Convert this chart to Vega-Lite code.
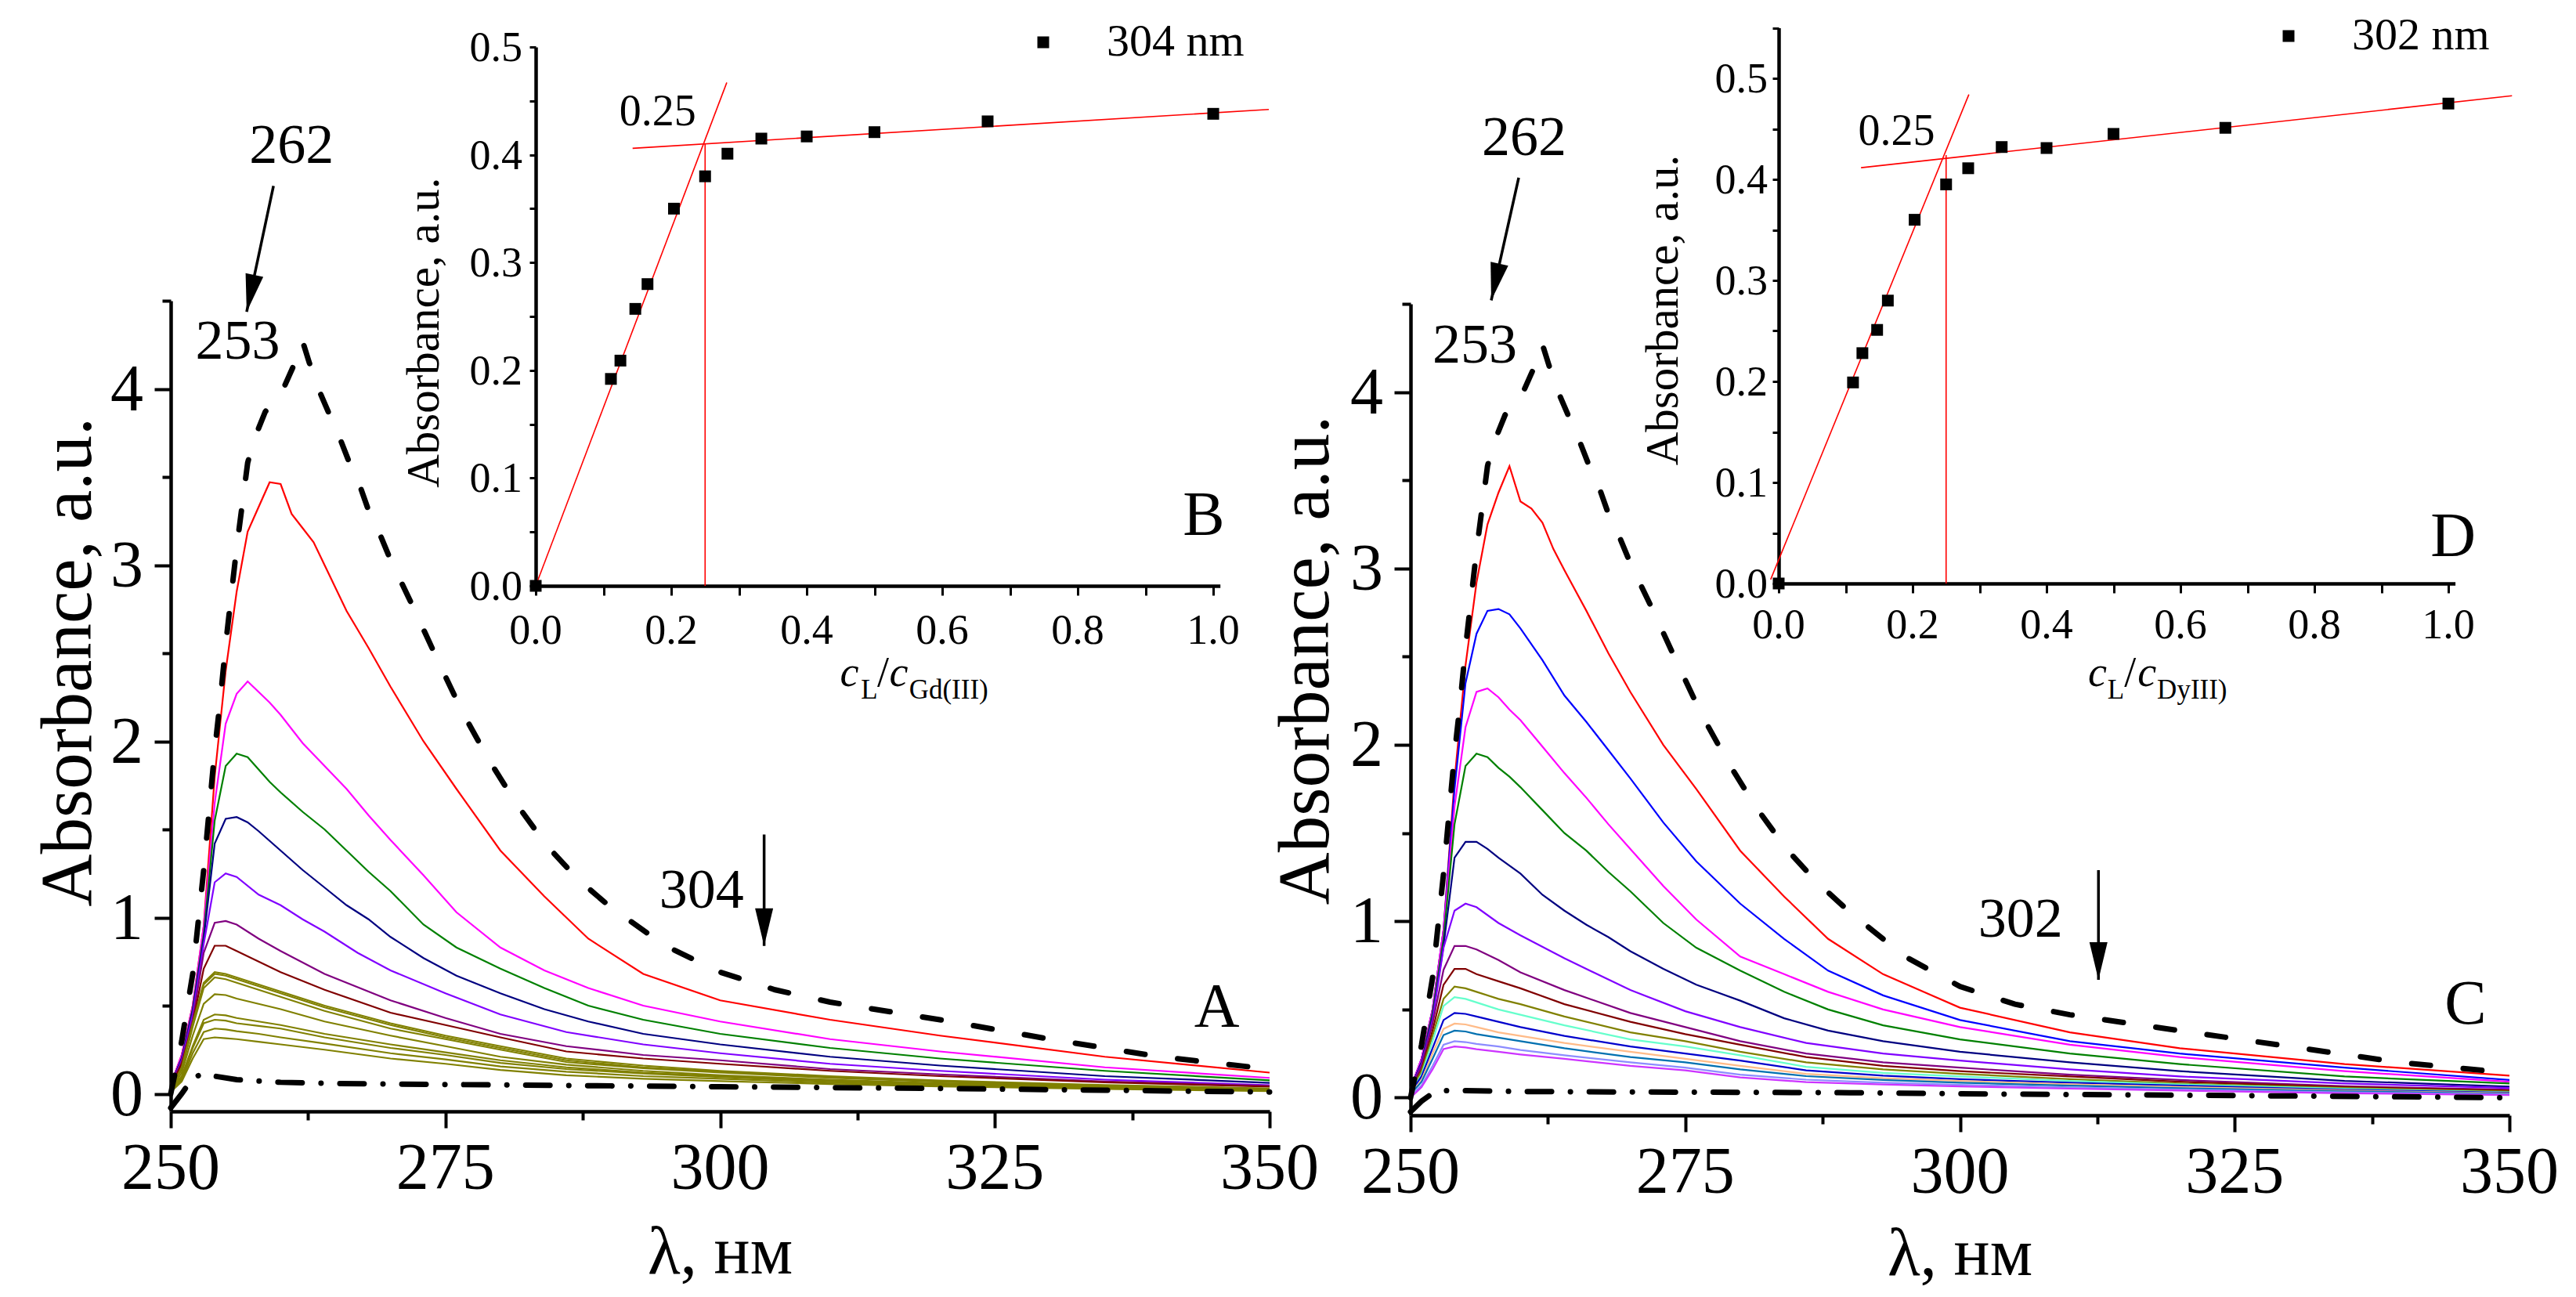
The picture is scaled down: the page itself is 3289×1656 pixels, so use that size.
{
  "$schema": "https://vega.github.io/schema/vega-lite/v6.json",
  "width": 3289,
  "height": 1656,
  "autosize": {"type": "none"},
  "padding": 0,
  "background": "white",
  "config": {
    "view": {"stroke": null},
    "axis": {"domainColor": "black", "tickColor": "black", "grid": false, "labels": false, "title": null},
    "text": {"font": "Liberation Serif", "color": "black"},
    "legend": {"labelColor": "black", "labelLimit": 0}
  },
  "datasets": {
    "specA": [
      {"s":1,"x":250,"y":0.05},{"s":1,"x":251,"y":0.22},{"s":1,"x":252,"y":0.5},{"s":1,"x":253,"y":0.95},{"s":1,"x":254,"y":1.8},{"s":1,"x":255,"y":2.4},{"s":1,"x":256,"y":2.85},{"s":1,"x":257,"y":3.19},{"s":1,"x":258,"y":3.33},{"s":1,"x":259,"y":3.47},{"s":1,"x":260,"y":3.46},{"s":1,"x":261,"y":3.29},{"s":1,"x":262,"y":3.21},{"s":1,"x":263,"y":3.13},{"s":1,"x":264,"y":3.0},{"s":1,"x":266,"y":2.74},{"s":1,"x":268,"y":2.53},{"s":1,"x":270,"y":2.31},{"s":1,"x":273,"y":2.0},{"s":1,"x":276,"y":1.73},{"s":1,"x":280,"y":1.38},{"s":1,"x":284,"y":1.12},{"s":1,"x":288,"y":0.88},{"s":1,"x":293,"y":0.68},{"s":1,"x":300,"y":0.53},{"s":1,"x":310,"y":0.42},{"s":1,"x":320,"y":0.33},{"s":1,"x":335,"y":0.21},{"s":1,"x":350,"y":0.12},
      {"s":2,"x":250,"y":0.05},{"s":2,"x":251,"y":0.22},{"s":2,"x":252,"y":0.5},{"s":2,"x":253,"y":0.95},{"s":2,"x":254,"y":1.65},{"s":2,"x":255,"y":2.1},{"s":2,"x":256,"y":2.27},{"s":2,"x":257,"y":2.34},{"s":2,"x":258,"y":2.28},{"s":2,"x":259,"y":2.22},{"s":2,"x":260,"y":2.15},{"s":2,"x":262,"y":1.99},{"s":2,"x":264,"y":1.86},{"s":2,"x":266,"y":1.73},{"s":2,"x":268,"y":1.58},{"s":2,"x":270,"y":1.44},{"s":2,"x":273,"y":1.24},{"s":2,"x":276,"y":1.03},{"s":2,"x":280,"y":0.83},{"s":2,"x":284,"y":0.7},{"s":2,"x":288,"y":0.6},{"s":2,"x":293,"y":0.5},{"s":2,"x":300,"y":0.41},{"s":2,"x":310,"y":0.31},{"s":2,"x":320,"y":0.24},{"s":2,"x":335,"y":0.15},{"s":2,"x":350,"y":0.09},
      {"s":3,"x":250,"y":0.05},{"s":3,"x":251,"y":0.2},{"s":3,"x":252,"y":0.48},{"s":3,"x":253,"y":0.9},{"s":3,"x":254,"y":1.55},{"s":3,"x":255,"y":1.86},{"s":3,"x":256,"y":1.93},{"s":3,"x":257,"y":1.91},{"s":3,"x":258,"y":1.84},{"s":3,"x":259,"y":1.77},{"s":3,"x":260,"y":1.71},{"s":3,"x":262,"y":1.6},{"s":3,"x":264,"y":1.5},{"s":3,"x":266,"y":1.38},{"s":3,"x":268,"y":1.26},{"s":3,"x":270,"y":1.15},{"s":3,"x":273,"y":0.96},{"s":3,"x":276,"y":0.83},{"s":3,"x":280,"y":0.71},{"s":3,"x":284,"y":0.6},{"s":3,"x":288,"y":0.5},{"s":3,"x":293,"y":0.42},{"s":3,"x":300,"y":0.34},{"s":3,"x":310,"y":0.26},{"s":3,"x":320,"y":0.2},{"s":3,"x":335,"y":0.13},{"s":3,"x":350,"y":0.076},
      {"s":4,"x":250,"y":0.05},{"s":4,"x":251,"y":0.2},{"s":4,"x":252,"y":0.47},{"s":4,"x":253,"y":0.88},{"s":4,"x":254,"y":1.42},{"s":4,"x":255,"y":1.56},{"s":4,"x":256,"y":1.57},{"s":4,"x":257,"y":1.54},{"s":4,"x":258,"y":1.49},{"s":4,"x":260,"y":1.38},{"s":4,"x":262,"y":1.27},{"s":4,"x":264,"y":1.17},{"s":4,"x":266,"y":1.07},{"s":4,"x":268,"y":0.99},{"s":4,"x":270,"y":0.89},{"s":4,"x":273,"y":0.77},{"s":4,"x":276,"y":0.67},{"s":4,"x":280,"y":0.57},{"s":4,"x":284,"y":0.48},{"s":4,"x":288,"y":0.41},{"s":4,"x":293,"y":0.34},{"s":4,"x":300,"y":0.28},{"s":4,"x":310,"y":0.21},{"s":4,"x":320,"y":0.16},{"s":4,"x":335,"y":0.1},{"s":4,"x":350,"y":0.062},
      {"s":5,"x":250,"y":0.05},{"s":5,"x":251,"y":0.19},{"s":5,"x":252,"y":0.45},{"s":5,"x":253,"y":0.85},{"s":5,"x":254,"y":1.2},{"s":5,"x":255,"y":1.25},{"s":5,"x":256,"y":1.23},{"s":5,"x":258,"y":1.13},{"s":5,"x":260,"y":1.07},{"s":5,"x":262,"y":0.99},{"s":5,"x":264,"y":0.92},{"s":5,"x":267,"y":0.8},{"s":5,"x":270,"y":0.7},{"s":5,"x":275,"y":0.57},{"s":5,"x":280,"y":0.45},{"s":5,"x":286,"y":0.35},{"s":5,"x":293,"y":0.28},{"s":5,"x":300,"y":0.23},{"s":5,"x":310,"y":0.17},{"s":5,"x":320,"y":0.13},{"s":5,"x":335,"y":0.08},{"s":5,"x":350,"y":0.049},
      {"s":6,"x":250,"y":0.05},{"s":6,"x":251,"y":0.18},{"s":6,"x":252,"y":0.42},{"s":6,"x":253,"y":0.8},{"s":6,"x":254,"y":0.97},{"s":6,"x":255,"y":0.98},{"s":6,"x":256,"y":0.96},{"s":6,"x":258,"y":0.88},{"s":6,"x":260,"y":0.81},{"s":6,"x":264,"y":0.68},{"s":6,"x":270,"y":0.53},{"s":6,"x":275,"y":0.43},{"s":6,"x":280,"y":0.34},{"s":6,"x":286,"y":0.27},{"s":6,"x":293,"y":0.22},{"s":6,"x":300,"y":0.19},{"s":6,"x":310,"y":0.14},{"s":6,"x":320,"y":0.11},{"s":6,"x":335,"y":0.07},{"s":6,"x":350,"y":0.045},
      {"s":7,"x":250,"y":0.04},{"s":7,"x":251,"y":0.17},{"s":7,"x":252,"y":0.4},{"s":7,"x":253,"y":0.71},{"s":7,"x":254,"y":0.84},{"s":7,"x":255,"y":0.84},{"s":7,"x":256,"y":0.81},{"s":7,"x":258,"y":0.75},{"s":7,"x":260,"y":0.69},{"s":7,"x":264,"y":0.59},{"s":7,"x":270,"y":0.46},{"s":7,"x":275,"y":0.39},{"s":7,"x":280,"y":0.32},{"s":7,"x":286,"y":0.24},{"s":7,"x":293,"y":0.2},{"s":7,"x":300,"y":0.17},{"s":7,"x":310,"y":0.13},{"s":7,"x":320,"y":0.1},{"s":7,"x":335,"y":0.065},{"s":7,"x":350,"y":0.04},
      {"s":8,"x":250,"y":0.03},{"s":8,"x":251,"y":0.15},{"s":8,"x":252,"y":0.4},{"s":8,"x":253,"y":0.63},{"s":8,"x":254,"y":0.69},{"s":8,"x":255,"y":0.68},{"s":8,"x":256,"y":0.66},{"s":8,"x":258,"y":0.62},{"s":8,"x":260,"y":0.58},{"s":8,"x":264,"y":0.5},{"s":8,"x":270,"y":0.4},{"s":8,"x":275,"y":0.33},{"s":8,"x":280,"y":0.27},{"s":8,"x":286,"y":0.2},{"s":8,"x":293,"y":0.16},{"s":8,"x":300,"y":0.13},{"s":8,"x":310,"y":0.1},{"s":8,"x":320,"y":0.075},{"s":8,"x":335,"y":0.05},{"s":8,"x":350,"y":0.03},
      {"s":9,"x":250,"y":0.03},{"s":9,"x":251,"y":0.14},{"s":9,"x":252,"y":0.39},{"s":9,"x":253,"y":0.62},{"s":9,"x":254,"y":0.68},{"s":9,"x":255,"y":0.67},{"s":9,"x":256,"y":0.65},{"s":9,"x":258,"y":0.61},{"s":9,"x":260,"y":0.57},{"s":9,"x":264,"y":0.49},{"s":9,"x":270,"y":0.39},{"s":9,"x":275,"y":0.32},{"s":9,"x":280,"y":0.26},{"s":9,"x":286,"y":0.19},{"s":9,"x":293,"y":0.15},{"s":9,"x":300,"y":0.125},{"s":9,"x":310,"y":0.095},{"s":9,"x":320,"y":0.07},{"s":9,"x":335,"y":0.045},{"s":9,"x":350,"y":0.028},
      {"s":10,"x":250,"y":0.03},{"s":10,"x":251,"y":0.14},{"s":10,"x":252,"y":0.38},{"s":10,"x":253,"y":0.6},{"s":10,"x":254,"y":0.66},{"s":10,"x":255,"y":0.65},{"s":10,"x":256,"y":0.63},{"s":10,"x":258,"y":0.59},{"s":10,"x":260,"y":0.55},{"s":10,"x":264,"y":0.47},{"s":10,"x":270,"y":0.37},{"s":10,"x":275,"y":0.31},{"s":10,"x":280,"y":0.25},{"s":10,"x":286,"y":0.18},{"s":10,"x":293,"y":0.145},{"s":10,"x":300,"y":0.12},{"s":10,"x":310,"y":0.09},{"s":10,"x":320,"y":0.068},{"s":10,"x":335,"y":0.043},{"s":10,"x":350,"y":0.026},
      {"s":11,"x":250,"y":0.02},{"s":11,"x":251,"y":0.12},{"s":11,"x":252,"y":0.33},{"s":11,"x":253,"y":0.51},{"s":11,"x":254,"y":0.565},{"s":11,"x":255,"y":0.56},{"s":11,"x":256,"y":0.54},{"s":11,"x":258,"y":0.51},{"s":11,"x":260,"y":0.48},{"s":11,"x":264,"y":0.41},{"s":11,"x":270,"y":0.33},{"s":11,"x":275,"y":0.27},{"s":11,"x":280,"y":0.21},{"s":11,"x":286,"y":0.165},{"s":11,"x":293,"y":0.13},{"s":11,"x":300,"y":0.105},{"s":11,"x":310,"y":0.08},{"s":11,"x":320,"y":0.06},{"s":11,"x":335,"y":0.04},{"s":11,"x":350,"y":0.024},
      {"s":12,"x":250,"y":0.02},{"s":12,"x":251,"y":0.1},{"s":12,"x":252,"y":0.27},{"s":12,"x":253,"y":0.42},{"s":12,"x":254,"y":0.45},{"s":12,"x":255,"y":0.445},{"s":12,"x":256,"y":0.43},{"s":12,"x":258,"y":0.41},{"s":12,"x":260,"y":0.39},{"s":12,"x":264,"y":0.34},{"s":12,"x":270,"y":0.28},{"s":12,"x":275,"y":0.235},{"s":12,"x":280,"y":0.19},{"s":12,"x":286,"y":0.15},{"s":12,"x":293,"y":0.12},{"s":12,"x":300,"y":0.1},{"s":12,"x":310,"y":0.075},{"s":12,"x":320,"y":0.057},{"s":12,"x":335,"y":0.037},{"s":12,"x":350,"y":0.022},
      {"s":13,"x":250,"y":0.02},{"s":13,"x":251,"y":0.09},{"s":13,"x":252,"y":0.26},{"s":13,"x":253,"y":0.4},{"s":13,"x":254,"y":0.42},{"s":13,"x":255,"y":0.415},{"s":13,"x":256,"y":0.4},{"s":13,"x":258,"y":0.385},{"s":13,"x":260,"y":0.37},{"s":13,"x":264,"y":0.32},{"s":13,"x":270,"y":0.26},{"s":13,"x":275,"y":0.22},{"s":13,"x":280,"y":0.175},{"s":13,"x":286,"y":0.14},{"s":13,"x":293,"y":0.115},{"s":13,"x":300,"y":0.095},{"s":13,"x":310,"y":0.07},{"s":13,"x":320,"y":0.053},{"s":13,"x":335,"y":0.034},{"s":13,"x":350,"y":0.02},
      {"s":14,"x":250,"y":0.02},{"s":14,"x":251,"y":0.08},{"s":14,"x":252,"y":0.23},{"s":14,"x":253,"y":0.35},{"s":14,"x":254,"y":0.37},{"s":14,"x":255,"y":0.365},{"s":14,"x":256,"y":0.355},{"s":14,"x":258,"y":0.34},{"s":14,"x":260,"y":0.32},{"s":14,"x":264,"y":0.285},{"s":14,"x":270,"y":0.23},{"s":14,"x":275,"y":0.195},{"s":14,"x":280,"y":0.155},{"s":14,"x":286,"y":0.125},{"s":14,"x":293,"y":0.1},{"s":14,"x":300,"y":0.085},{"s":14,"x":310,"y":0.063},{"s":14,"x":320,"y":0.048},{"s":14,"x":335,"y":0.03},{"s":14,"x":350,"y":0.018},
      {"s":15,"x":250,"y":0.01},{"s":15,"x":251,"y":0.07},{"s":15,"x":252,"y":0.2},{"s":15,"x":253,"y":0.31},{"s":15,"x":254,"y":0.32},{"s":15,"x":255,"y":0.315},{"s":15,"x":256,"y":0.31},{"s":15,"x":258,"y":0.295},{"s":15,"x":260,"y":0.28},{"s":15,"x":264,"y":0.25},{"s":15,"x":270,"y":0.2},{"s":15,"x":275,"y":0.17},{"s":15,"x":280,"y":0.135},{"s":15,"x":286,"y":0.105},{"s":15,"x":293,"y":0.085},{"s":15,"x":300,"y":0.072},{"s":15,"x":310,"y":0.055},{"s":15,"x":320,"y":0.042},{"s":15,"x":335,"y":0.027},{"s":15,"x":350,"y":0.015}
    ],
    "ligandA": [
      {"x":250,"y":0.0},{"x":251,"y":0.3},{"x":252,"y":0.68},{"x":253,"y":1.27},{"x":254,"y":1.95},{"x":254.5,"y":2.23},{"x":255,"y":2.55},{"x":256,"y":3.1},{"x":257,"y":3.58},{"x":257.5,"y":3.7},{"x":258.6,"y":3.87},{"x":260.1,"y":3.98},{"x":261.1,"y":4.12},{"x":261.6,"y":4.22},{"x":262,"y":4.27},{"x":262.6,"y":4.15},{"x":263.3,"y":4.02},{"x":264.4,"y":3.86},{"x":265.2,"y":3.75},{"x":266.2,"y":3.59},{"x":267.1,"y":3.47},{"x":268,"y":3.31},{"x":269,"y":3.18},{"x":270,"y":3.03},{"x":271,"y":2.9},{"x":272,"y":2.77},{"x":274,"y":2.5},{"x":276.5,"y":2.17},{"x":278.9,"y":1.9},{"x":281.4,"y":1.65},{"x":284.2,"y":1.41},{"x":287,"y":1.22},{"x":290,"y":1.06},{"x":295,"y":0.84},{"x":300,"y":0.69},{"x":305,"y":0.59},{"x":310,"y":0.52},{"x":320,"y":0.42},{"x":330,"y":0.31},{"x":340,"y":0.21},{"x":350,"y":0.14}
    ],
    "saltA": [
      {"x":250,"y":-0.08},{"x":251,"y":0.0},{"x":252,"y":0.09},{"x":253,"y":0.115},{"x":254,"y":0.1},{"x":256,"y":0.08},{"x":260,"y":0.065},{"x":265,"y":0.058},{"x":270,"y":0.055},{"x":280,"y":0.05},{"x":290,"y":0.045},{"x":300,"y":0.04},{"x":320,"y":0.03},{"x":335,"y":0.02},{"x":350,"y":0.01}
    ],
    "specC": [
      {"s":1,"x":250,"y":0.05},{"s":1,"x":251,"y":0.22},{"s":1,"x":252,"y":0.5},{"s":1,"x":253,"y":0.95},{"s":1,"x":254,"y":1.8},{"s":1,"x":255,"y":2.45},{"s":1,"x":256,"y":2.92},{"s":1,"x":257,"y":3.25},{"s":1,"x":258,"y":3.43},{"s":1,"x":259,"y":3.58},{"s":1,"x":260,"y":3.38},{"s":1,"x":261,"y":3.34},{"s":1,"x":262,"y":3.26},{"s":1,"x":263,"y":3.11},{"s":1,"x":264,"y":2.99},{"s":1,"x":266,"y":2.76},{"s":1,"x":268,"y":2.52},{"s":1,"x":270,"y":2.3},{"s":1,"x":273,"y":2.0},{"s":1,"x":276,"y":1.75},{"s":1,"x":280,"y":1.4},{"s":1,"x":284,"y":1.14},{"s":1,"x":288,"y":0.9},{"s":1,"x":293,"y":0.7},{"s":1,"x":300,"y":0.51},{"s":1,"x":310,"y":0.37},{"s":1,"x":320,"y":0.28},{"s":1,"x":335,"y":0.19},{"s":1,"x":350,"y":0.125},
      {"s":2,"x":250,"y":0.05},{"s":2,"x":251,"y":0.22},{"s":2,"x":252,"y":0.5},{"s":2,"x":253,"y":0.95},{"s":2,"x":254,"y":1.75},{"s":2,"x":255,"y":2.35},{"s":2,"x":256,"y":2.63},{"s":2,"x":257,"y":2.76},{"s":2,"x":258,"y":2.77},{"s":2,"x":259,"y":2.74},{"s":2,"x":260,"y":2.66},{"s":2,"x":262,"y":2.48},{"s":2,"x":264,"y":2.28},{"s":2,"x":266,"y":2.13},{"s":2,"x":268,"y":1.97},{"s":2,"x":270,"y":1.81},{"s":2,"x":273,"y":1.56},{"s":2,"x":276,"y":1.34},{"s":2,"x":280,"y":1.1},{"s":2,"x":284,"y":0.9},{"s":2,"x":288,"y":0.72},{"s":2,"x":293,"y":0.58},{"s":2,"x":300,"y":0.44},{"s":2,"x":310,"y":0.32},{"s":2,"x":320,"y":0.25},{"s":2,"x":335,"y":0.17},{"s":2,"x":350,"y":0.1},
      {"s":3,"x":250,"y":0.05},{"s":3,"x":251,"y":0.22},{"s":3,"x":252,"y":0.5},{"s":3,"x":253,"y":0.95},{"s":3,"x":254,"y":1.65},{"s":3,"x":255,"y":2.1},{"s":3,"x":256,"y":2.3},{"s":3,"x":257,"y":2.32},{"s":3,"x":258,"y":2.27},{"s":3,"x":259,"y":2.2},{"s":3,"x":260,"y":2.14},{"s":3,"x":262,"y":1.99},{"s":3,"x":264,"y":1.84},{"s":3,"x":266,"y":1.7},{"s":3,"x":268,"y":1.55},{"s":3,"x":270,"y":1.41},{"s":3,"x":273,"y":1.2},{"s":3,"x":276,"y":1.01},{"s":3,"x":280,"y":0.8},{"s":3,"x":284,"y":0.7},{"s":3,"x":288,"y":0.6},{"s":3,"x":293,"y":0.5},{"s":3,"x":300,"y":0.4},{"s":3,"x":310,"y":0.3},{"s":3,"x":320,"y":0.23},{"s":3,"x":335,"y":0.15},{"s":3,"x":350,"y":0.09},
      {"s":4,"x":250,"y":0.05},{"s":4,"x":251,"y":0.2},{"s":4,"x":252,"y":0.48},{"s":4,"x":253,"y":0.9},{"s":4,"x":254,"y":1.55},{"s":4,"x":255,"y":1.88},{"s":4,"x":256,"y":1.95},{"s":4,"x":257,"y":1.93},{"s":4,"x":258,"y":1.87},{"s":4,"x":259,"y":1.82},{"s":4,"x":260,"y":1.76},{"s":4,"x":262,"y":1.63},{"s":4,"x":264,"y":1.5},{"s":4,"x":266,"y":1.4},{"s":4,"x":268,"y":1.28},{"s":4,"x":270,"y":1.17},{"s":4,"x":273,"y":0.99},{"s":4,"x":276,"y":0.85},{"s":4,"x":280,"y":0.72},{"s":4,"x":284,"y":0.6},{"s":4,"x":288,"y":0.5},{"s":4,"x":293,"y":0.41},{"s":4,"x":300,"y":0.33},{"s":4,"x":310,"y":0.25},{"s":4,"x":320,"y":0.19},{"s":4,"x":335,"y":0.12},{"s":4,"x":350,"y":0.08},
      {"s":5,"x":250,"y":0.05},{"s":5,"x":251,"y":0.2},{"s":5,"x":252,"y":0.46},{"s":5,"x":253,"y":0.86},{"s":5,"x":254,"y":1.36},{"s":5,"x":255,"y":1.45},{"s":5,"x":256,"y":1.45},{"s":5,"x":257,"y":1.41},{"s":5,"x":258,"y":1.36},{"s":5,"x":260,"y":1.27},{"s":5,"x":262,"y":1.15},{"s":5,"x":264,"y":1.06},{"s":5,"x":266,"y":0.98},{"s":5,"x":268,"y":0.91},{"s":5,"x":270,"y":0.83},{"s":5,"x":273,"y":0.73},{"s":5,"x":276,"y":0.64},{"s":5,"x":280,"y":0.55},{"s":5,"x":284,"y":0.45},{"s":5,"x":288,"y":0.38},{"s":5,"x":293,"y":0.32},{"s":5,"x":300,"y":0.26},{"s":5,"x":310,"y":0.2},{"s":5,"x":320,"y":0.15},{"s":5,"x":335,"y":0.095},{"s":5,"x":350,"y":0.063},
      {"s":6,"x":250,"y":0.05},{"s":6,"x":251,"y":0.19},{"s":6,"x":252,"y":0.44},{"s":6,"x":253,"y":0.85},{"s":6,"x":254,"y":1.06},{"s":6,"x":255,"y":1.1},{"s":6,"x":256,"y":1.08},{"s":6,"x":258,"y":0.99},{"s":6,"x":260,"y":0.92},{"s":6,"x":264,"y":0.79},{"s":6,"x":270,"y":0.61},{"s":6,"x":275,"y":0.49},{"s":6,"x":280,"y":0.4},{"s":6,"x":286,"y":0.31},{"s":6,"x":293,"y":0.25},{"s":6,"x":300,"y":0.21},{"s":6,"x":310,"y":0.16},{"s":6,"x":320,"y":0.12},{"s":6,"x":335,"y":0.08},{"s":6,"x":350,"y":0.055},
      {"s":7,"x":250,"y":0.05},{"s":7,"x":251,"y":0.18},{"s":7,"x":252,"y":0.42},{"s":7,"x":253,"y":0.725},{"s":7,"x":254,"y":0.86},{"s":7,"x":255,"y":0.86},{"s":7,"x":256,"y":0.84},{"s":7,"x":258,"y":0.78},{"s":7,"x":260,"y":0.71},{"s":7,"x":264,"y":0.61},{"s":7,"x":270,"y":0.48},{"s":7,"x":275,"y":0.4},{"s":7,"x":280,"y":0.32},{"s":7,"x":286,"y":0.25},{"s":7,"x":293,"y":0.2},{"s":7,"x":300,"y":0.17},{"s":7,"x":310,"y":0.13},{"s":7,"x":320,"y":0.1},{"s":7,"x":335,"y":0.065},{"s":7,"x":350,"y":0.045},
      {"s":8,"x":250,"y":0.04},{"s":8,"x":251,"y":0.16},{"s":8,"x":252,"y":0.38},{"s":8,"x":253,"y":0.64},{"s":8,"x":254,"y":0.73},{"s":8,"x":255,"y":0.73},{"s":8,"x":256,"y":0.7},{"s":8,"x":258,"y":0.66},{"s":8,"x":260,"y":0.62},{"s":8,"x":264,"y":0.53},{"s":8,"x":270,"y":0.43},{"s":8,"x":275,"y":0.36},{"s":8,"x":280,"y":0.3},{"s":8,"x":286,"y":0.23},{"s":8,"x":293,"y":0.18},{"s":8,"x":300,"y":0.15},{"s":8,"x":310,"y":0.12},{"s":8,"x":320,"y":0.09},{"s":8,"x":335,"y":0.06},{"s":8,"x":350,"y":0.04},
      {"s":9,"x":250,"y":0.04},{"s":9,"x":251,"y":0.15},{"s":9,"x":252,"y":0.35},{"s":9,"x":253,"y":0.56},{"s":9,"x":254,"y":0.63},{"s":9,"x":255,"y":0.62},{"s":9,"x":256,"y":0.6},{"s":9,"x":258,"y":0.56},{"s":9,"x":260,"y":0.53},{"s":9,"x":264,"y":0.46},{"s":9,"x":270,"y":0.37},{"s":9,"x":275,"y":0.32},{"s":9,"x":280,"y":0.26},{"s":9,"x":286,"y":0.2},{"s":9,"x":293,"y":0.16},{"s":9,"x":300,"y":0.135},{"s":9,"x":310,"y":0.105},{"s":9,"x":320,"y":0.08},{"s":9,"x":335,"y":0.055},{"s":9,"x":350,"y":0.035},
      {"s":10,"x":250,"y":0.03},{"s":10,"x":251,"y":0.13},{"s":10,"x":252,"y":0.32},{"s":10,"x":253,"y":0.52},{"s":10,"x":254,"y":0.57},{"s":10,"x":255,"y":0.56},{"s":10,"x":256,"y":0.54},{"s":10,"x":258,"y":0.5},{"s":10,"x":260,"y":0.47},{"s":10,"x":264,"y":0.41},{"s":10,"x":270,"y":0.33},{"s":10,"x":275,"y":0.29},{"s":10,"x":280,"y":0.24},{"s":10,"x":286,"y":0.175},{"s":10,"x":293,"y":0.14},{"s":10,"x":300,"y":0.12},{"s":10,"x":310,"y":0.095},{"s":10,"x":320,"y":0.075},{"s":10,"x":335,"y":0.05},{"s":10,"x":350,"y":0.03},
      {"s":11,"x":250,"y":0.03},{"s":11,"x":251,"y":0.12},{"s":11,"x":252,"y":0.28},{"s":11,"x":253,"y":0.44},{"s":11,"x":254,"y":0.48},{"s":11,"x":255,"y":0.475},{"s":11,"x":256,"y":0.46},{"s":11,"x":258,"y":0.43},{"s":11,"x":260,"y":0.4},{"s":11,"x":264,"y":0.35},{"s":11,"x":270,"y":0.29},{"s":11,"x":275,"y":0.25},{"s":11,"x":280,"y":0.21},{"s":11,"x":286,"y":0.155},{"s":11,"x":293,"y":0.125},{"s":11,"x":300,"y":0.105},{"s":11,"x":310,"y":0.085},{"s":11,"x":320,"y":0.068},{"s":11,"x":335,"y":0.045},{"s":11,"x":350,"y":0.028},
      {"s":12,"x":250,"y":0.02},{"s":12,"x":251,"y":0.1},{"s":12,"x":252,"y":0.25},{"s":12,"x":253,"y":0.39},{"s":12,"x":254,"y":0.42},{"s":12,"x":255,"y":0.415},{"s":12,"x":256,"y":0.4},{"s":12,"x":258,"y":0.37},{"s":12,"x":260,"y":0.35},{"s":12,"x":264,"y":0.31},{"s":12,"x":270,"y":0.26},{"s":12,"x":275,"y":0.22},{"s":12,"x":280,"y":0.18},{"s":12,"x":286,"y":0.135},{"s":12,"x":293,"y":0.11},{"s":12,"x":300,"y":0.095},{"s":12,"x":310,"y":0.076},{"s":12,"x":320,"y":0.06},{"s":12,"x":335,"y":0.04},{"s":12,"x":350,"y":0.025},
      {"s":13,"x":250,"y":0.02},{"s":13,"x":251,"y":0.09},{"s":13,"x":252,"y":0.22},{"s":13,"x":253,"y":0.355},{"s":13,"x":254,"y":0.38},{"s":13,"x":255,"y":0.375},{"s":13,"x":256,"y":0.36},{"s":13,"x":258,"y":0.34},{"s":13,"x":260,"y":0.32},{"s":13,"x":264,"y":0.28},{"s":13,"x":270,"y":0.23},{"s":13,"x":275,"y":0.2},{"s":13,"x":280,"y":0.16},{"s":13,"x":286,"y":0.122},{"s":13,"x":293,"y":0.1},{"s":13,"x":300,"y":0.085},{"s":13,"x":310,"y":0.068},{"s":13,"x":320,"y":0.054},{"s":13,"x":335,"y":0.036},{"s":13,"x":350,"y":0.022},
      {"s":14,"x":250,"y":0.01},{"s":14,"x":251,"y":0.07},{"s":14,"x":252,"y":0.18},{"s":14,"x":253,"y":0.3},{"s":14,"x":254,"y":0.32},{"s":14,"x":255,"y":0.315},{"s":14,"x":256,"y":0.305},{"s":14,"x":258,"y":0.29},{"s":14,"x":260,"y":0.27},{"s":14,"x":264,"y":0.24},{"s":14,"x":270,"y":0.2},{"s":14,"x":275,"y":0.17},{"s":14,"x":280,"y":0.13},{"s":14,"x":286,"y":0.102},{"s":14,"x":293,"y":0.085},{"s":14,"x":300,"y":0.073},{"s":14,"x":310,"y":0.058},{"s":14,"x":320,"y":0.046},{"s":14,"x":335,"y":0.03},{"s":14,"x":350,"y":0.018},
      {"s":15,"x":250,"y":0.0},{"s":15,"x":251,"y":0.06},{"s":15,"x":252,"y":0.16},{"s":15,"x":253,"y":0.275},{"s":15,"x":254,"y":0.29},{"s":15,"x":255,"y":0.285},{"s":15,"x":256,"y":0.275},{"s":15,"x":258,"y":0.26},{"s":15,"x":260,"y":0.245},{"s":15,"x":264,"y":0.22},{"s":15,"x":270,"y":0.18},{"s":15,"x":275,"y":0.155},{"s":15,"x":280,"y":0.115},{"s":15,"x":286,"y":0.088},{"s":15,"x":293,"y":0.075},{"s":15,"x":300,"y":0.064},{"s":15,"x":310,"y":0.051},{"s":15,"x":320,"y":0.04},{"s":15,"x":335,"y":0.025},{"s":15,"x":350,"y":0.015}
    ],
    "ligandC": [
      {"x":250,"y":0.0},{"x":251,"y":0.3},{"x":252,"y":0.68},{"x":253,"y":1.27},{"x":254,"y":1.95},{"x":254.5,"y":2.23},{"x":255,"y":2.55},{"x":256,"y":3.1},{"x":257,"y":3.58},{"x":257.5,"y":3.7},{"x":258.6,"y":3.87},{"x":260.1,"y":3.98},{"x":261.1,"y":4.12},{"x":261.6,"y":4.22},{"x":262,"y":4.27},{"x":262.6,"y":4.15},{"x":263.3,"y":4.02},{"x":264.4,"y":3.86},{"x":265.2,"y":3.75},{"x":266.2,"y":3.59},{"x":267.1,"y":3.47},{"x":268,"y":3.31},{"x":269,"y":3.18},{"x":270,"y":3.03},{"x":271,"y":2.9},{"x":272,"y":2.77},{"x":274,"y":2.5},{"x":276.5,"y":2.17},{"x":278.9,"y":1.9},{"x":281.4,"y":1.65},{"x":284.2,"y":1.41},{"x":287,"y":1.22},{"x":290,"y":1.05},{"x":295,"y":0.8},{"x":300,"y":0.63},{"x":305,"y":0.53},{"x":310,"y":0.47},{"x":320,"y":0.38},{"x":330,"y":0.29},{"x":340,"y":0.2},{"x":350,"y":0.14}
    ],
    "saltC": [
      {"x":250,"y":-0.08},{"x":251,"y":-0.02},{"x":252,"y":0.025},{"x":253,"y":0.04},{"x":255,"y":0.04},{"x":260,"y":0.035},{"x":270,"y":0.032},{"x":280,"y":0.03},{"x":290,"y":0.028},{"x":300,"y":0.022},{"x":325,"y":0.012},{"x":350,"y":0.0}
    ],
    "titrB": [
      {"r":0,"a":0.0,"lab":"304 nm"},{"r":0.111,"a":0.192,"lab":"304 nm"},{"r":0.125,"a":0.209,"lab":"304 nm"},{"r":0.147,"a":0.257,"lab":"304 nm"},{"r":0.165,"a":0.28,"lab":"304 nm"},{"r":0.204,"a":0.35,"lab":"304 nm"},{"r":0.25,"a":0.38,"lab":"304 nm"},{"r":0.283,"a":0.401,"lab":"304 nm"},{"r":0.333,"a":0.415,"lab":"304 nm"},{"r":0.4,"a":0.417,"lab":"304 nm"},{"r":0.5,"a":0.421,"lab":"304 nm"},{"r":0.667,"a":0.431,"lab":"304 nm"},{"r":1.0,"a":0.438,"lab":"304 nm"}
    ],
    "fitB": [
      {"g":"rise","r":0,"a":0},{"g":"rise","r":0.282,"a":0.467},
      {"g":"plateau","r":0.143,"a":0.406},{"g":"plateau","r":1.082,"a":0.442},
      {"g":"mark","r":0.25,"a":0},{"g":"mark","r":0.25,"a":0.41}
    ],
    "titrD": [
      {"r":0,"a":0.0,"lab":"302 nm"},{"r":0.111,"a":0.199,"lab":"302 nm"},{"r":0.125,"a":0.228,"lab":"302 nm"},{"r":0.147,"a":0.251,"lab":"302 nm"},{"r":0.163,"a":0.28,"lab":"302 nm"},{"r":0.203,"a":0.36,"lab":"302 nm"},{"r":0.25,"a":0.395,"lab":"302 nm"},{"r":0.283,"a":0.411,"lab":"302 nm"},{"r":0.333,"a":0.432,"lab":"302 nm"},{"r":0.4,"a":0.431,"lab":"302 nm"},{"r":0.5,"a":0.445,"lab":"302 nm"},{"r":0.667,"a":0.451,"lab":"302 nm"},{"r":1.0,"a":0.475,"lab":"302 nm"}
    ],
    "fitD": [
      {"g":"rise","r":-0.012,"a":0.004},{"g":"rise","r":0.284,"a":0.484},
      {"g":"plateau","r":0.123,"a":0.4115},{"g":"plateau","r":1.095,"a":0.4827},
      {"g":"mark","r":0.25,"a":0},{"g":"mark","r":0.25,"a":0.424}
    ],
    "nmTicks": [{"v":250,"t":"250"},{"v":275,"t":"275"},{"v":300,"t":"300"},{"v":325,"t":"325"},{"v":350,"t":"350"}],
    "absTicks": [{"v":0,"t":"0"},{"v":1,"t":"1"},{"v":2,"t":"2"},{"v":3,"t":"3"},{"v":4,"t":"4"}],
    "ratioTicks": [{"v":0,"t":"0.0"},{"v":0.2,"t":"0.2"},{"v":0.4,"t":"0.4"},{"v":0.6,"t":"0.6"},{"v":0.8,"t":"0.8"},{"v":1.0,"t":"1.0"}],
    "insetAbsTicks": [{"v":0,"t":"0.0"},{"v":0.1,"t":"0.1"},{"v":0.2,"t":"0.2"},{"v":0.3,"t":"0.3"},{"v":0.4,"t":"0.4"},{"v":0.5,"t":"0.5"}]
  },
  "resolve": {
    "scale": {"x": "independent", "y": "independent", "color": "independent", "shape": "independent"},
    "axis": {"x": "independent", "y": "independent"},
    "legend": {"shape": "independent"}
  },
  "layer": [
    {
      "data": {"name": "specA"},
      "mark": {"type": "line", "strokeWidth": 2.2},
      "encoding": {
        "x": {"field": "x", "type": "quantitative", "scale": {"domain": [250, 350], "range": [218, 1621], "nice": false, "zero": false},
          "axis": {"orient": "bottom", "offset": -237, "values": [250, 262.5, 275, 287.5, 300, 312.5, 325, 337.5, 350],
            "tickSize": {"condition": {"test": "datum.value % 25 === 0", "value": 21}, "value": 11},
            "tickWidth": 4, "domainWidth": 4.5, "labels": false, "title": null}},
        "y": {"field": "y", "type": "quantitative", "scale": {"domain": [-0.1, 4.5], "range": [1419, 384], "nice": false, "zero": false},
          "axis": {"orient": "left", "offset": -218, "values": [0, 0.5, 1, 1.5, 2, 2.5, 3, 3.5, 4, 4.5],
            "tickSize": {"condition": {"test": "datum.value % 1 === 0", "value": 21}, "value": 11},
            "tickWidth": 4, "domainWidth": 4.5, "labels": false, "title": null}},
        "color": {"field": "s", "type": "nominal", "legend": null,
          "scale": {"domain": [1,2,3,4,5,6,7,8,9,10,11,12,13,14,15],
            "range": ["#ff0000","#ff00ff","#008000","#000080","#8000ff","#800080","#800000","#808000","#808000","#808000","#808000","#808000","#808000","#808000","#808000"]}}
      }
    },
    {
      "data": {"name": "saltA"},
      "mark": {"type": "line", "color": "black", "strokeWidth": 7, "strokeCap": "round", "strokeDash": [31, 24, 0.1, 24]},
      "encoding": {
        "x": {"field": "x", "type": "quantitative", "scale": {"domain": [250, 350], "range": [218, 1621], "nice": false, "zero": false}, "axis": null},
        "y": {"field": "y", "type": "quantitative", "scale": {"domain": [-0.1, 4.5], "range": [1419, 384], "nice": false, "zero": false}, "axis": null}
      }
    },
    {
      "data": {"name": "ligandA"},
      "mark": {"type": "line", "color": "black", "strokeWidth": 7, "strokeCap": "round", "strokeDash": [24, 42]},
      "encoding": {
        "x": {"field": "x", "type": "quantitative", "scale": {"domain": [250, 350], "range": [218, 1621], "nice": false, "zero": false}, "axis": null},
        "y": {"field": "y", "type": "quantitative", "scale": {"domain": [-0.1, 4.5], "range": [1419, 384], "nice": false, "zero": false}, "axis": null}
      }
    },
    {
      "data": {"name": "nmTicks"},
      "mark": {"type": "text", "fontSize": 84, "align": "center", "baseline": "middle", "dy": 74},
      "encoding": {
        "x": {"field": "v", "type": "quantitative", "scale": {"domain": [250, 350], "range": [218, 1621], "nice": false, "zero": false}, "axis": null},
        "y": {"datum": -0.1, "type": "quantitative", "scale": {"domain": [-0.1, 4.5], "range": [1419, 384], "nice": false, "zero": false}, "axis": null},
        "text": {"field": "t"}
      }
    },
    {
      "data": {"name": "absTicks"},
      "mark": {"type": "text", "fontSize": 84, "align": "right", "baseline": "middle", "dx": -35, "dy": 2},
      "encoding": {
        "x": {"datum": 250, "type": "quantitative", "scale": {"domain": [250, 350], "range": [218, 1621], "nice": false, "zero": false}, "axis": null},
        "y": {"field": "v", "type": "quantitative", "scale": {"domain": [-0.1, 4.5], "range": [1419, 384], "nice": false, "zero": false}, "axis": null},
        "text": {"field": "t"}
      }
    },
    {
      "data": {"values": [{"t": "Absorbance, a.u.", "x": 240.73, "y": 2.45}]},
      "mark": {"type": "text", "fontSize": 93, "align": "center", "baseline": "middle", "angle": 270},
      "encoding": {
        "x": {"field": "x", "type": "quantitative", "scale": {"domain": [250, 350], "range": [218, 1621], "nice": false, "zero": false}, "axis": null},
        "y": {"field": "y", "type": "quantitative", "scale": {"domain": [-0.1, 4.5], "range": [1419, 384], "nice": false, "zero": false}, "axis": null},
        "text": {"field": "t"}
      }
    },
    {
      "data": {"values": [{"t": "λ, нм", "x": 300, "y": -0.904}]},
      "mark": {"type": "text", "fontSize": 86, "align": "center", "baseline": "middle"},
      "encoding": {
        "x": {"field": "x", "type": "quantitative", "scale": {"domain": [250, 350], "range": [218, 1621], "nice": false, "zero": false}, "axis": null},
        "y": {"field": "y", "type": "quantitative", "scale": {"domain": [-0.1, 4.5], "range": [1419, 384], "nice": false, "zero": false}, "axis": null},
        "text": {"field": "t"}
      }
    },
    {
      "data": {"values": [{"t": "262", "x": 261.0, "y": 5.38}, {"t": "253", "x": 256.1, "y": 4.27}, {"t": "304", "x": 298.3, "y": 1.153}]},
      "mark": {"type": "text", "fontSize": 72, "align": "center", "baseline": "middle"},
      "encoding": {
        "x": {"field": "x", "type": "quantitative", "scale": {"domain": [250, 350], "range": [218, 1621], "nice": false, "zero": false}, "axis": null},
        "y": {"field": "y", "type": "quantitative", "scale": {"domain": [-0.1, 4.5], "range": [1419, 384], "nice": false, "zero": false}, "axis": null},
        "text": {"field": "t"}
      }
    },
    {
      "data": {"values": [{"t": "A", "x": 345.2, "y": 0.487}]},
      "mark": {"type": "text", "fontSize": 80, "align": "center", "baseline": "middle"},
      "encoding": {
        "x": {"field": "x", "type": "quantitative", "scale": {"domain": [250, 350], "range": [218, 1621], "nice": false, "zero": false}, "axis": null},
        "y": {"field": "y", "type": "quantitative", "scale": {"domain": [-0.1, 4.5], "range": [1419, 384], "nice": false, "zero": false}, "axis": null},
        "text": {"field": "t"}
      }
    },
    {
      "data": {"values": [{"x": 259.35, "y": 5.152, "x2": 256.91, "y2": 4.437}, {"x": 304, "y": 1.471, "x2": 304, "y2": 0.839}]},
      "mark": {"type": "rule", "color": "black", "strokeWidth": 3.5},
      "encoding": {
        "x": {"field": "x", "type": "quantitative", "scale": {"domain": [250, 350], "range": [218, 1621], "nice": false, "zero": false}, "axis": null},
        "y": {"field": "y", "type": "quantitative", "scale": {"domain": [-0.1, 4.5], "range": [1419, 384], "nice": false, "zero": false}, "axis": null},
        "x2": {"field": "x2"},
        "y2": {"field": "y2"}
      }
    },
    {
      "data": {"values": [{"x": 256.91, "y": 4.437}]},
      "mark": {"type": "point", "shape": "M -0.48 -2 L 0.48 -2 L 0 0 Z", "filled": true, "color": "black", "opacity": 1, "size": 2304, "angle": 11.9, "strokeWidth": 0},
      "encoding": {
        "x": {"field": "x", "type": "quantitative", "scale": {"domain": [250, 350], "range": [218, 1621], "nice": false, "zero": false}, "axis": null},
        "y": {"field": "y", "type": "quantitative", "scale": {"domain": [-0.1, 4.5], "range": [1419, 384], "nice": false, "zero": false}, "axis": null}
      }
    },
    {
      "data": {"values": [{"x": 304, "y": 0.839}]},
      "mark": {"type": "point", "shape": "M -0.48 -2 L 0.48 -2 L 0 0 Z", "filled": true, "color": "black", "opacity": 1, "size": 2304, "angle": 0, "strokeWidth": 0},
      "encoding": {
        "x": {"field": "x", "type": "quantitative", "scale": {"domain": [250, 350], "range": [218, 1621], "nice": false, "zero": false}, "axis": null},
        "y": {"field": "y", "type": "quantitative", "scale": {"domain": [-0.1, 4.5], "range": [1419, 384], "nice": false, "zero": false}, "axis": null}
      }
    },
    {
      "data": {"name": "fitB"},
      "mark": {"type": "line", "color": "#ff0000", "strokeWidth": 1.6},
      "encoding": {
        "x": {"field": "r", "type": "quantitative", "scale": {"domain": [0, 1.01], "range": [684, 1557.7], "nice": false, "zero": false},
          "axis": {"orient": "bottom", "offset": -908, "values": [0, 0.1, 0.2, 0.3, 0.4, 0.5, 0.6, 0.7, 0.8, 0.9, 1.0],
            "tickSize": 12, "tickWidth": 3, "domainWidth": 4.5, "labels": false, "title": null}},
        "y": {"field": "a", "type": "quantitative", "scale": {"domain": [0, 0.5], "range": [748, 60], "nice": false, "zero": false},
          "axis": {"orient": "left", "offset": -684, "values": [0, 0.05, 0.1, 0.15, 0.2, 0.25, 0.3, 0.35, 0.4, 0.45, 0.5],
            "tickSize": 8, "tickWidth": 3, "domainWidth": 4.5, "labels": false, "title": null}},
        "detail": {"field": "g"}
      }
    },
    {
      "data": {"name": "titrB"},
      "mark": {"type": "point", "filled": true, "color": "black", "opacity": 1, "size": 225, "strokeWidth": 0},
      "encoding": {
        "x": {"field": "r", "type": "quantitative", "scale": {"domain": [0, 1.01], "range": [684, 1557.7], "nice": false, "zero": false}, "axis": null},
        "y": {"field": "a", "type": "quantitative", "scale": {"domain": [0, 0.5], "range": [748, 60], "nice": false, "zero": false}, "axis": null},
        "shape": {"field": "lab", "type": "nominal", "scale": {"domain": ["304 nm"], "range": ["square"]},
          "legend": {"orient": "none", "legendX": 1303, "legendY": 25, "title": null, "labelFont": "Liberation Serif", "labelFontSize": 58, "labelLimit": 0, "symbolSize": 225, "symbolFillColor": "black", "symbolStrokeWidth": 0, "labelOffset": 52, "padding": 0}}
      }
    },
    {
      "data": {"name": "ratioTicks"},
      "mark": {"type": "text", "fontSize": 54, "align": "center", "baseline": "middle", "dy": 58},
      "encoding": {
        "x": {"field": "v", "type": "quantitative", "scale": {"domain": [0, 1.01], "range": [684, 1557.7], "nice": false, "zero": false}, "axis": null},
        "y": {"datum": 0, "type": "quantitative", "scale": {"domain": [0, 0.5], "range": [748, 60], "nice": false, "zero": false}, "axis": null},
        "text": {"field": "t"}
      }
    },
    {
      "data": {"name": "insetAbsTicks"},
      "mark": {"type": "text", "fontSize": 54, "align": "right", "baseline": "middle", "dx": -17, "dy": 2},
      "encoding": {
        "x": {"datum": 0, "type": "quantitative", "scale": {"domain": [0, 1.01], "range": [684, 1557.7], "nice": false, "zero": false}, "axis": null},
        "y": {"field": "v", "type": "quantitative", "scale": {"domain": [0, 0.5], "range": [748, 60], "nice": false, "zero": false}, "axis": null},
        "text": {"field": "t"}
      }
    },
    {
      "data": {"values": [{"t": "Absorbance, a.u.", "r": -0.164, "a": 0.235}]},
      "mark": {"type": "text", "fontSize": 59, "align": "center", "baseline": "middle", "angle": 270},
      "encoding": {
        "x": {"field": "r", "type": "quantitative", "scale": {"domain": [0, 1.01], "range": [684, 1557.7], "nice": false, "zero": false}, "axis": null},
        "y": {"field": "a", "type": "quantitative", "scale": {"domain": [0, 0.5], "range": [748, 60], "nice": false, "zero": false}, "axis": null},
        "text": {"field": "t"}
      }
    },
    {
      "data": {"values": [{"t": "0.25", "r": 0.18, "a": 0.44}]},
      "mark": {"type": "text", "fontSize": 56, "align": "center", "baseline": "middle"},
      "encoding": {
        "x": {"field": "r", "type": "quantitative", "scale": {"domain": [0, 1.01], "range": [684, 1557.7], "nice": false, "zero": false}, "axis": null},
        "y": {"field": "a", "type": "quantitative", "scale": {"domain": [0, 0.5], "range": [748, 60], "nice": false, "zero": false}, "axis": null},
        "text": {"field": "t"}
      }
    },
    {
      "data": {"values": [{"t": "B", "r": 0.986, "a": 0.065}]},
      "mark": {"type": "text", "fontSize": 80, "align": "center", "baseline": "middle"},
      "encoding": {
        "x": {"field": "r", "type": "quantitative", "scale": {"domain": [0, 1.01], "range": [684, 1557.7], "nice": false, "zero": false}, "axis": null},
        "y": {"field": "a", "type": "quantitative", "scale": {"domain": [0, 0.5], "range": [748, 60], "nice": false, "zero": false}, "axis": null},
        "text": {"field": "t"}
      }
    },
    {
      "data": {"values": [{"t": "c", "r": 0.449, "a": -0.093}, {"t": "c", "r": 0.522, "a": -0.093}]},
      "mark": {"type": "text", "fontSize": 54, "fontStyle": "italic", "align": "left", "baseline": "alphabetic"},
      "encoding": {
        "x": {"field": "r", "type": "quantitative", "scale": {"domain": [0, 1.01], "range": [684, 1557.7], "nice": false, "zero": false}, "axis": null},
        "y": {"field": "a", "type": "quantitative", "scale": {"domain": [0, 0.5], "range": [748, 60], "nice": false, "zero": false}, "axis": null},
        "text": {"field": "t"}
      }
    },
    {
      "data": {"values": [{"t": "/", "r": 0.504, "a": -0.093}]},
      "mark": {"type": "text", "fontSize": 54, "align": "left", "baseline": "alphabetic"},
      "encoding": {
        "x": {"field": "r", "type": "quantitative", "scale": {"domain": [0, 1.01], "range": [684, 1557.7], "nice": false, "zero": false}, "axis": null},
        "y": {"field": "a", "type": "quantitative", "scale": {"domain": [0, 0.5], "range": [748, 60], "nice": false, "zero": false}, "axis": null},
        "text": {"field": "t"}
      }
    },
    {
      "data": {"values": [{"t": "L", "r": 0.48, "a": -0.105}, {"t": "Gd(III)", "r": 0.551, "a": -0.105}]},
      "mark": {"type": "text", "fontSize": 35, "align": "left", "baseline": "alphabetic"},
      "encoding": {
        "x": {"field": "r", "type": "quantitative", "scale": {"domain": [0, 1.01], "range": [684, 1557.7], "nice": false, "zero": false}, "axis": null},
        "y": {"field": "a", "type": "quantitative", "scale": {"domain": [0, 0.5], "range": [748, 60], "nice": false, "zero": false}, "axis": null},
        "text": {"field": "t"}
      }
    },
    {
      "data": {"name": "specC"},
      "mark": {"type": "line", "strokeWidth": 2.2},
      "encoding": {
        "x": {"field": "x", "type": "quantitative", "scale": {"domain": [250, 350], "range": [1801, 3204], "nice": false, "zero": false},
          "axis": {"orient": "bottom", "offset": -232, "values": [250, 262.5, 275, 287.5, 300, 312.5, 325, 337.5, 350],
            "tickSize": {"condition": {"test": "datum.value % 25 === 0", "value": 21}, "value": 11},
            "tickWidth": 4, "domainWidth": 4.5, "labels": false, "title": null}},
        "y": {"field": "y", "type": "quantitative", "scale": {"domain": [-0.1, 4.5], "range": [1424, 388], "nice": false, "zero": false},
          "axis": {"orient": "left", "offset": -1801, "values": [0, 0.5, 1, 1.5, 2, 2.5, 3, 3.5, 4, 4.5],
            "tickSize": {"condition": {"test": "datum.value % 1 === 0", "value": 21}, "value": 11},
            "tickWidth": 4, "domainWidth": 4.5, "labels": false, "title": null}},
        "color": {"field": "s", "type": "nominal", "legend": null,
          "scale": {"domain": [1,2,3,4,5,6,7,8,9,10,11,12,13,14,15],
            "range": ["#ff0000","#0000ff","#ff00ff","#008000","#000080","#8000ff","#800080","#800000","#808000","#66ffcc","#0000cc","#ffbb88","#0070b0","#8c8cff","#cc33ff"]}}
      }
    },
    {
      "data": {"name": "saltC"},
      "mark": {"type": "line", "color": "black", "strokeWidth": 7, "strokeCap": "round", "strokeDash": [31, 24, 0.1, 24]},
      "encoding": {
        "x": {"field": "x", "type": "quantitative", "scale": {"domain": [250, 350], "range": [1801, 3204], "nice": false, "zero": false}, "axis": null},
        "y": {"field": "y", "type": "quantitative", "scale": {"domain": [-0.1, 4.5], "range": [1424, 388], "nice": false, "zero": false}, "axis": null}
      }
    },
    {
      "data": {"name": "ligandC"},
      "mark": {"type": "line", "color": "black", "strokeWidth": 7, "strokeCap": "round", "strokeDash": [24, 42]},
      "encoding": {
        "x": {"field": "x", "type": "quantitative", "scale": {"domain": [250, 350], "range": [1801, 3204], "nice": false, "zero": false}, "axis": null},
        "y": {"field": "y", "type": "quantitative", "scale": {"domain": [-0.1, 4.5], "range": [1424, 388], "nice": false, "zero": false}, "axis": null}
      }
    },
    {
      "data": {"name": "nmTicks"},
      "mark": {"type": "text", "fontSize": 84, "align": "center", "baseline": "middle", "dy": 74},
      "encoding": {
        "x": {"field": "v", "type": "quantitative", "scale": {"domain": [250, 350], "range": [1801, 3204], "nice": false, "zero": false}, "axis": null},
        "y": {"datum": -0.1, "type": "quantitative", "scale": {"domain": [-0.1, 4.5], "range": [1424, 388], "nice": false, "zero": false}, "axis": null},
        "text": {"field": "t"}
      }
    },
    {
      "data": {"name": "absTicks"},
      "mark": {"type": "text", "fontSize": 84, "align": "right", "baseline": "middle", "dx": -35, "dy": 2},
      "encoding": {
        "x": {"datum": 250, "type": "quantitative", "scale": {"domain": [250, 350], "range": [1801, 3204], "nice": false, "zero": false}, "axis": null},
        "y": {"field": "v", "type": "quantitative", "scale": {"domain": [-0.1, 4.5], "range": [1424, 388], "nice": false, "zero": false}, "axis": null},
        "text": {"field": "t"}
      }
    },
    {
      "data": {"values": [{"t": "Absorbance, a.u.", "x": 240.52, "y": 2.48}]},
      "mark": {"type": "text", "fontSize": 93, "align": "center", "baseline": "middle", "angle": 270},
      "encoding": {
        "x": {"field": "x", "type": "quantitative", "scale": {"domain": [250, 350], "range": [1801, 3204], "nice": false, "zero": false}, "axis": null},
        "y": {"field": "y", "type": "quantitative", "scale": {"domain": [-0.1, 4.5], "range": [1424, 388], "nice": false, "zero": false}, "axis": null},
        "text": {"field": "t"}
      }
    },
    {
      "data": {"values": [{"t": "λ, нм", "x": 300, "y": -0.89}]},
      "mark": {"type": "text", "fontSize": 86, "align": "center", "baseline": "middle"},
      "encoding": {
        "x": {"field": "x", "type": "quantitative", "scale": {"domain": [250, 350], "range": [1801, 3204], "nice": false, "zero": false}, "axis": null},
        "y": {"field": "y", "type": "quantitative", "scale": {"domain": [-0.1, 4.5], "range": [1424, 388], "nice": false, "zero": false}, "axis": null},
        "text": {"field": "t"}
      }
    },
    {
      "data": {"values": [{"t": "262", "x": 260.33, "y": 5.44}, {"t": "253", "x": 255.84, "y": 4.265}, {"t": "302", "x": 305.5, "y": 1.01}]},
      "mark": {"type": "text", "fontSize": 72, "align": "center", "baseline": "middle"},
      "encoding": {
        "x": {"field": "x", "type": "quantitative", "scale": {"domain": [250, 350], "range": [1801, 3204], "nice": false, "zero": false}, "axis": null},
        "y": {"field": "y", "type": "quantitative", "scale": {"domain": [-0.1, 4.5], "range": [1424, 388], "nice": false, "zero": false}, "axis": null},
        "text": {"field": "t"}
      }
    },
    {
      "data": {"values": [{"t": "C", "x": 346.0, "y": 0.526}]},
      "mark": {"type": "text", "fontSize": 80, "align": "center", "baseline": "middle"},
      "encoding": {
        "x": {"field": "x", "type": "quantitative", "scale": {"domain": [250, 350], "range": [1801, 3204], "nice": false, "zero": false}, "axis": null},
        "y": {"field": "y", "type": "quantitative", "scale": {"domain": [-0.1, 4.5], "range": [1424, 388], "nice": false, "zero": false}, "axis": null},
        "text": {"field": "t"}
      }
    },
    {
      "data": {"values": [{"x": 259.84, "y": 5.215, "x2": 257.34, "y2": 4.52}, {"x": 312.6, "y": 1.29, "x2": 312.6, "y2": 0.668}]},
      "mark": {"type": "rule", "color": "black", "strokeWidth": 3.5},
      "encoding": {
        "x": {"field": "x", "type": "quantitative", "scale": {"domain": [250, 350], "range": [1801, 3204], "nice": false, "zero": false}, "axis": null},
        "y": {"field": "y", "type": "quantitative", "scale": {"domain": [-0.1, 4.5], "range": [1424, 388], "nice": false, "zero": false}, "axis": null},
        "x2": {"field": "x2"},
        "y2": {"field": "y2"}
      }
    },
    {
      "data": {"values": [{"x": 257.34, "y": 4.52}]},
      "mark": {"type": "point", "shape": "M -0.48 -2 L 0.48 -2 L 0 0 Z", "filled": true, "color": "black", "opacity": 1, "size": 2304, "angle": 12.6, "strokeWidth": 0},
      "encoding": {
        "x": {"field": "x", "type": "quantitative", "scale": {"domain": [250, 350], "range": [1801, 3204], "nice": false, "zero": false}, "axis": null},
        "y": {"field": "y", "type": "quantitative", "scale": {"domain": [-0.1, 4.5], "range": [1424, 388], "nice": false, "zero": false}, "axis": null}
      }
    },
    {
      "data": {"values": [{"x": 312.6, "y": 0.668}]},
      "mark": {"type": "point", "shape": "M -0.48 -2 L 0.48 -2 L 0 0 Z", "filled": true, "color": "black", "opacity": 1, "size": 2304, "angle": 0, "strokeWidth": 0},
      "encoding": {
        "x": {"field": "x", "type": "quantitative", "scale": {"domain": [250, 350], "range": [1801, 3204], "nice": false, "zero": false}, "axis": null},
        "y": {"field": "y", "type": "quantitative", "scale": {"domain": [-0.1, 4.5], "range": [1424, 388], "nice": false, "zero": false}, "axis": null}
      }
    },
    {
      "data": {"name": "fitD"},
      "mark": {"type": "line", "color": "#ff0000", "strokeWidth": 1.6},
      "encoding": {
        "x": {"field": "r", "type": "quantitative", "scale": {"domain": [0, 1.01], "range": [2271, 3134.6], "nice": false, "zero": false},
          "axis": {"orient": "bottom", "offset": -911, "values": [0, 0.1, 0.2, 0.3, 0.4, 0.5, 0.6, 0.7, 0.8, 0.9, 1.0],
            "tickSize": 12, "tickWidth": 3, "domainWidth": 4.5, "labels": false, "title": null}},
        "y": {"field": "a", "type": "quantitative", "scale": {"domain": [0, 0.55], "range": [745, 35.5], "nice": false, "zero": false},
          "axis": {"orient": "left", "offset": -2271, "values": [0, 0.05, 0.1, 0.15, 0.2, 0.25, 0.3, 0.35, 0.4, 0.45, 0.5, 0.55],
            "tickSize": 8, "tickWidth": 3, "domainWidth": 4.5, "labels": false, "title": null}},
        "detail": {"field": "g"}
      }
    },
    {
      "data": {"name": "titrD"},
      "mark": {"type": "point", "filled": true, "color": "black", "opacity": 1, "size": 225, "strokeWidth": 0},
      "encoding": {
        "x": {"field": "r", "type": "quantitative", "scale": {"domain": [0, 1.01], "range": [2271, 3134.6], "nice": false, "zero": false}, "axis": null},
        "y": {"field": "a", "type": "quantitative", "scale": {"domain": [0, 0.55], "range": [745, 35.5], "nice": false, "zero": false}, "axis": null},
        "shape": {"field": "lab", "type": "nominal", "scale": {"domain": ["302 nm"], "range": ["square"]},
          "legend": {"orient": "none", "legendX": 2893, "legendY": 17, "title": null, "labelFont": "Liberation Serif", "labelFontSize": 58, "labelLimit": 0, "symbolSize": 225, "symbolFillColor": "black", "symbolStrokeWidth": 0, "labelOffset": 52, "padding": 0}}
      }
    },
    {
      "data": {"name": "ratioTicks"},
      "mark": {"type": "text", "fontSize": 54, "align": "center", "baseline": "middle", "dy": 54},
      "encoding": {
        "x": {"field": "v", "type": "quantitative", "scale": {"domain": [0, 1.01], "range": [2271, 3134.6], "nice": false, "zero": false}, "axis": null},
        "y": {"datum": 0, "type": "quantitative", "scale": {"domain": [0, 0.55], "range": [745, 35.5], "nice": false, "zero": false}, "axis": null},
        "text": {"field": "t"}
      }
    },
    {
      "data": {"name": "insetAbsTicks"},
      "mark": {"type": "text", "fontSize": 54, "align": "right", "baseline": "middle", "dx": -14, "dy": 2},
      "encoding": {
        "x": {"datum": 0, "type": "quantitative", "scale": {"domain": [0, 1.01], "range": [2271, 3134.6], "nice": false, "zero": false}, "axis": null},
        "y": {"field": "v", "type": "quantitative", "scale": {"domain": [0, 0.55], "range": [745, 35.5], "nice": false, "zero": false}, "axis": null},
        "text": {"field": "t"}
      }
    },
    {
      "data": {"values": [{"t": "Absorbance, a.u.", "r": -0.172, "a": 0.2705}]},
      "mark": {"type": "text", "fontSize": 59, "align": "center", "baseline": "middle", "angle": 270},
      "encoding": {
        "x": {"field": "r", "type": "quantitative", "scale": {"domain": [0, 1.01], "range": [2271, 3134.6], "nice": false, "zero": false}, "axis": null},
        "y": {"field": "a", "type": "quantitative", "scale": {"domain": [0, 0.55], "range": [745, 35.5], "nice": false, "zero": false}, "axis": null},
        "text": {"field": "t"}
      }
    },
    {
      "data": {"values": [{"t": "0.25", "r": 0.176, "a": 0.447}]},
      "mark": {"type": "text", "fontSize": 56, "align": "center", "baseline": "middle"},
      "encoding": {
        "x": {"field": "r", "type": "quantitative", "scale": {"domain": [0, 1.01], "range": [2271, 3134.6], "nice": false, "zero": false}, "axis": null},
        "y": {"field": "a", "type": "quantitative", "scale": {"domain": [0, 0.55], "range": [745, 35.5], "nice": false, "zero": false}, "axis": null},
        "text": {"field": "t"}
      }
    },
    {
      "data": {"values": [{"t": "D", "r": 1.007, "a": 0.046}]},
      "mark": {"type": "text", "fontSize": 80, "align": "center", "baseline": "middle"},
      "encoding": {
        "x": {"field": "r", "type": "quantitative", "scale": {"domain": [0, 1.01], "range": [2271, 3134.6], "nice": false, "zero": false}, "axis": null},
        "y": {"field": "a", "type": "quantitative", "scale": {"domain": [0, 0.55], "range": [745, 35.5], "nice": false, "zero": false}, "axis": null},
        "text": {"field": "t"}
      }
    },
    {
      "data": {"values": [{"t": "c", "r": 0.462, "a": -0.1016}, {"t": "c", "r": 0.536, "a": -0.1016}]},
      "mark": {"type": "text", "fontSize": 54, "fontStyle": "italic", "align": "left", "baseline": "alphabetic"},
      "encoding": {
        "x": {"field": "r", "type": "quantitative", "scale": {"domain": [0, 1.01], "range": [2271, 3134.6], "nice": false, "zero": false}, "axis": null},
        "y": {"field": "a", "type": "quantitative", "scale": {"domain": [0, 0.55], "range": [745, 35.5], "nice": false, "zero": false}, "axis": null},
        "text": {"field": "t"}
      }
    },
    {
      "data": {"values": [{"t": "/", "r": 0.516, "a": -0.1016}]},
      "mark": {"type": "text", "fontSize": 54, "align": "left", "baseline": "alphabetic"},
      "encoding": {
        "x": {"field": "r", "type": "quantitative", "scale": {"domain": [0, 1.01], "range": [2271, 3134.6], "nice": false, "zero": false}, "axis": null},
        "y": {"field": "a", "type": "quantitative", "scale": {"domain": [0, 0.55], "range": [745, 35.5], "nice": false, "zero": false}, "axis": null},
        "text": {"field": "t"}
      }
    },
    {
      "data": {"values": [{"t": "L", "r": 0.491, "a": -0.114}, {"t": "DyIII)", "r": 0.565, "a": -0.114}]},
      "mark": {"type": "text", "fontSize": 35, "align": "left", "baseline": "alphabetic"},
      "encoding": {
        "x": {"field": "r", "type": "quantitative", "scale": {"domain": [0, 1.01], "range": [2271, 3134.6], "nice": false, "zero": false}, "axis": null},
        "y": {"field": "a", "type": "quantitative", "scale": {"domain": [0, 0.55], "range": [745, 35.5], "nice": false, "zero": false}, "axis": null},
        "text": {"field": "t"}
      }
    }
  ]
}
